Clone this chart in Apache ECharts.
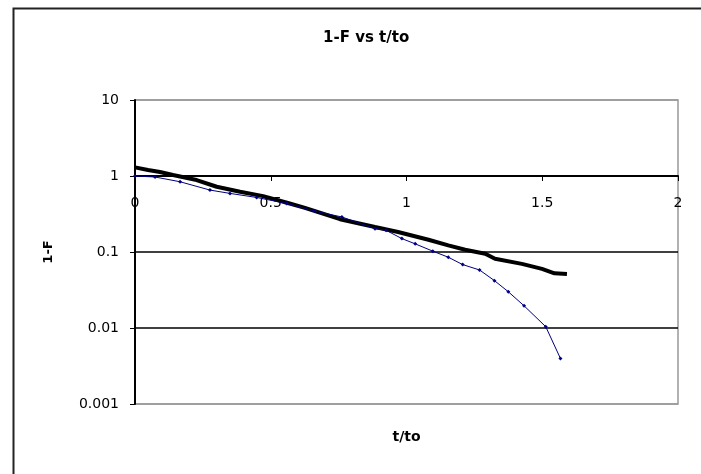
<!DOCTYPE html>
<html>
<head>
<meta charset="utf-8">
<script src="https://cdn.jsdelivr.net/npm/echarts@6/dist/echarts.min.js"></script>
<style>
  html, body { margin: 0; padding: 0; background: #fff; }
  #chart { width: 701px; height: 474px; }
</style>
</head>
<body>
<div id="chart"></div>
<script>
// Black series (thick line)
var blackX = [0, 0.048, 0.092, 0.140, 0.227, 0.301, 0.387, 0.472, 0.560, 0.626, 0.755, 0.884, 0.969, 1.081, 1.154, 1.216, 1.290, 1.326, 1.425, 1.499, 1.545, 1.591];
var blackY = [1.30, 1.20, 1.13, 1.03, 0.885, 0.722, 0.620, 0.543, 0.445, 0.380, 0.270, 0.213, 0.183, 0.145, 0.122, 0.107, 0.0947, 0.0813, 0.0698, 0.0599, 0.0525, 0.0514];
// Blue series (thin line with markers)
var blueX = [0, 0.074, 0.166, 0.276, 0.350, 0.448, 0.559, 0.663, 0.762, 0.884, 0.925, 0.983, 1.032, 1.097, 1.154, 1.207, 1.269, 1.324, 1.375, 1.433, 1.513, 1.567];
var blueY = [1.0, 0.97, 0.84, 0.653, 0.590, 0.522, 0.435, 0.344, 0.289, 0.203, 0.193, 0.150, 0.128, 0.1025, 0.0853, 0.0683, 0.058, 0.042, 0.030, 0.0196, 0.0104, 0.00397];
// Tick labels
var yTickLabels = ['0.001', '0.01', '0.1', '1', '10'];
var xTickLabels = ['0', '0.5', '1', '1.5', '2'];

var FONT = 'DejaVu Sans';
function pairs(xs, ys) { return xs.map(function (x, i) { return [x, ys[i]]; }); }

var chart = echarts.init(document.getElementById('chart'), null, { renderer: 'canvas' });
chart.setOption({
  animation: false,
  backgroundColor: '#fff',
  title: {
    text: '1-F vs t/to',
    left: 318, top: 26,
    textStyle: { fontFamily: FONT, fontSize: 15, fontWeight: 'bold', color: '#000' }
  },
  graphic: [{
    type: 'rect', silent: true,
    shape: { x: 13.5, y: 8.5, width: 720, height: 500 },
    style: { fill: 'none', stroke: '#222', lineWidth: 2 }
  }],
  grid: {
    left: 135, right: 23, top: 100, bottom: 70,
    show: true, borderColor: '#999', borderWidth: 1.5, backgroundColor: 'transparent'
  },
  xAxis: {
    type: 'value', min: 0, max: 2, interval: 0.5,
    position: 'bottom', offset: -228,
    axisLine: { onZero: false, lineStyle: { color: '#000', width: 2 } },
    axisTick: { show: true, length: 5, lineStyle: { color: '#000', width: 1 } },
    axisLabel: {
      margin: 20, fontFamily: FONT, fontSize: 14, color: '#000',
      formatter: function (v) { return xTickLabels[Math.round(v / 0.5)]; }
    },
    splitLine: { show: false },
    name: 't/to', nameLocation: 'middle', nameGap: 254,
    nameTextStyle: { fontFamily: FONT, fontSize: 14, fontWeight: 'bold', color: '#000' }
  },
  yAxis: {
    type: 'log', logBase: 10, min: 0.001, max: 10,
    axisLine: { show: true, lineStyle: { color: '#000', width: 2 } },
    axisTick: { show: true, length: 5, lineStyle: { color: '#000', width: 1 } },
    axisLabel: {
      margin: 16, fontFamily: FONT, fontSize: 14, color: '#000',
      formatter: function (v) { return yTickLabels[Math.round(Math.log10(v)) + 3]; }
    },
    splitLine: { show: true, lineStyle: { color: ['#999', '#000', '#000', '#000', '#999'], width: 1.5 } },
    minorTick: { show: false },
    name: '1-F', nameLocation: 'middle', nameRotate: 90, nameGap: 80,
    nameTextStyle: { fontFamily: FONT, fontSize: 13, fontWeight: 'bold', color: '#000' }
  },
  series: [{
    type: 'line', name: 'black',
    data: pairs(blackX, blackY),
    showSymbol: false, symbol: 'none',
    lineStyle: { color: '#000', width: 4 },
    z: 2
  }, {
    type: 'line', name: 'blue',
    data: pairs(blueX, blueY),
    symbol: 'diamond', symbolSize: 4,
    itemStyle: { color: '#000080' },
    lineStyle: { color: '#000080', width: 1 },
    z: 3
  }]
});
</script>
</body>
</html>
